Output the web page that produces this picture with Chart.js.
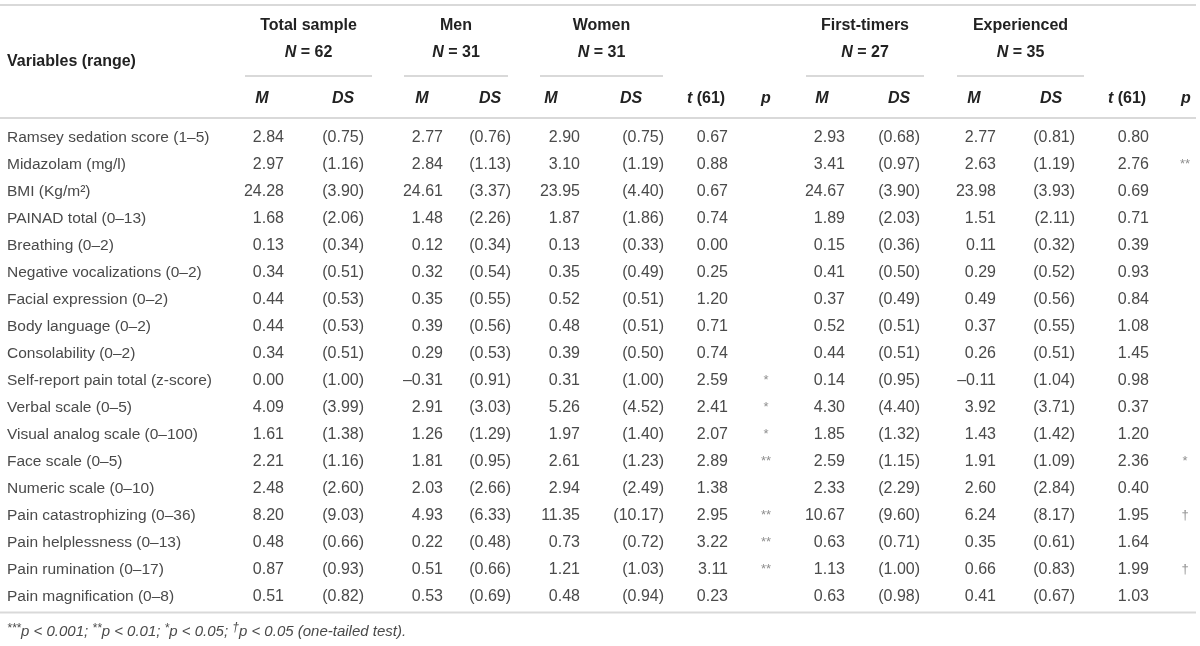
<!DOCTYPE html>
<html>
<head>
<meta charset="utf-8">
<script src="https://cdn.jsdelivr.net/npm/chart.js@4.4.0/dist/chart.umd.min.js"></script>
<style>
  html, body { margin: 0; padding: 0; background: #fff; }
  #wrap { width: 1200px; height: 646px; }
</style>
</head>
<body>
<div id="wrap"><canvas id="tableChart" width="1200" height="646"></canvas></div>
<script>
const rowLabels = [
    'Ramsey sedation score (1–5)', 'Midazolam (mg/l)', 'BMI (Kg/m²)', 'PAINAD total (0–13)',
    'Breathing (0–2)', 'Negative vocalizations (0–2)', 'Facial expression (0–2)', 'Body language (0–2)',
    'Consolability (0–2)', 'Self-report pain total (z-score)', 'Verbal scale (0–5)',
    'Visual analog scale (0–100)', 'Face scale (0–5)', 'Numeric scale (0–10)',
    'Pain catastrophizing (0–36)', 'Pain helplessness (0–13)', 'Pain rumination (0–17)',
    'Pain magnification (0–8)'
];

const totalM  = [2.84, 2.97, 24.28, 1.68, 0.13, 0.34, 0.44, 0.44, 0.34, 0.00, 4.09, 1.61, 2.21, 2.48, 8.20, 0.48, 0.87, 0.51];
const totalDS = [0.75, 1.16, 3.90, 2.06, 0.34, 0.51, 0.53, 0.53, 0.51, 1.00, 3.99, 1.38, 1.16, 2.60, 9.03, 0.66, 0.93, 0.82];
const menM    = [2.77, 2.84, 24.61, 1.48, 0.12, 0.32, 0.35, 0.39, 0.29, -0.31, 2.91, 1.26, 1.81, 2.03, 4.93, 0.22, 0.51, 0.53];
const menDS   = [0.76, 1.13, 3.37, 2.26, 0.34, 0.54, 0.55, 0.56, 0.53, 0.91, 3.03, 1.29, 0.95, 2.66, 6.33, 0.48, 0.66, 0.69];
const womenM  = [2.90, 3.10, 23.95, 1.87, 0.13, 0.35, 0.52, 0.48, 0.39, 0.31, 5.26, 1.97, 2.61, 2.94, 11.35, 0.73, 1.21, 0.48];
const womenDS = [0.75, 1.19, 4.40, 1.86, 0.33, 0.49, 0.51, 0.51, 0.50, 1.00, 4.52, 1.40, 1.23, 2.49, 10.17, 0.72, 1.03, 0.94];
const sexT    = [0.67, 0.88, 0.67, 0.74, 0.00, 0.25, 1.20, 0.71, 0.74, 2.59, 2.41, 2.07, 2.89, 1.38, 2.95, 3.22, 3.11, 0.23];
const sexP    = ['', '', '', '', '', '', '', '', '', '*', '*', '*', '**', '', '**', '**', '**', ''];
const firstM  = [2.93, 3.41, 24.67, 1.89, 0.15, 0.41, 0.37, 0.52, 0.44, 0.14, 4.30, 1.85, 2.59, 2.33, 10.67, 0.63, 1.13, 0.63];
const firstDS = [0.68, 0.97, 3.90, 2.03, 0.36, 0.50, 0.49, 0.51, 0.51, 0.95, 4.40, 1.32, 1.15, 2.29, 9.60, 0.71, 1.00, 0.98];
const expM    = [2.77, 2.63, 23.98, 1.51, 0.11, 0.29, 0.49, 0.37, 0.26, -0.11, 3.92, 1.43, 1.91, 2.60, 6.24, 0.35, 0.66, 0.41];
const expDS   = [0.81, 1.19, 3.93, 2.11, 0.32, 0.52, 0.56, 0.55, 0.51, 1.04, 3.71, 1.42, 1.09, 2.84, 8.17, 0.61, 0.83, 0.67];
const expT    = [0.80, 2.76, 0.69, 0.71, 0.39, 0.93, 0.84, 1.08, 1.45, 0.98, 0.37, 1.20, 2.36, 0.40, 1.95, 1.64, 1.99, 1.03];
const expP    = ['', '**', '', '', '', '', '', '', '', '', '', '', '*', '', '†', '', '†', ''];

const groupTitles = ['Total sample', 'Men', 'Women', 'First-timers', 'Experienced'];
const groupNs = ['62', '31', '31', '27', '35'];

// layout (horizontal positions on the x scale, 0..1200)
const groupSpans = [[245, 372], [404, 508], [540, 663], [806, 924], [957, 1084]];
const subHeads = [
    { t: 'M', x: 262 }, { t: 'DS', x: 343 }, { t: 'M', x: 422 }, { t: 'DS', x: 490 },
    { t: 'M', x: 551 }, { t: 'DS', x: 631 }, { t: 't61', x: 706 }, { t: 'p', x: 766 },
    { t: 'M', x: 822 }, { t: 'DS', x: 899 }, { t: 'M', x: 974 }, { t: 'DS', x: 1051 },
    { t: 't61', x: 1127 }, { t: 'p', x: 1186 }
];

const num = v => (v < 0 ? '–' : '') + Math.abs(v).toFixed(2);
const par = v => '(' + v.toFixed(2) + ')';

const columns = [
    { values: totalM, fmt: num, x: 284 },
    { values: totalDS, fmt: par, x: 364 },
    { values: menM, fmt: num, x: 443 },
    { values: menDS, fmt: par, x: 511 },
    { values: womenM, fmt: num, x: 580 },
    { values: womenDS, fmt: par, x: 664 },
    { values: sexT, fmt: num, x: 728 },
    { values: sexP, fmt: s => s, x: 766, mark: true },
    { values: firstM, fmt: num, x: 845 },
    { values: firstDS, fmt: par, x: 920 },
    { values: expM, fmt: num, x: 996 },
    { values: expDS, fmt: par, x: 1075 },
    { values: expT, fmt: num, x: 1149 },
    { values: expP, fmt: s => s, x: 1185, mark: true }
];

const FONT = '"Liberation Sans", Arial, Helvetica, sans-serif';
const LINE = '#d9d9d9';
const TEXT = '#4a4a4a';

function drawRich(ctx, parts, x, y, align) {
    let w = 0;
    parts.forEach(p => { ctx.font = p.f; w += ctx.measureText(p.t).width; });
    let cx = align === 'center' ? x - w / 2 : (align === 'right' ? x - w : x);
    ctx.textAlign = 'left';
    parts.forEach(p => {
        ctx.font = p.f;
        ctx.fillText(p.t, cx, y + (p.dy || 0));
        cx += ctx.measureText(p.t).width;
    });
}

const tablePlugin = {
    id: 'tablePlugin',
    afterDatasetsDraw(chart) {
        const ctx = chart.ctx;
        const xs = chart.scales.x;
        const ys = chart.scales.y;
        ctx.save();
        ctx.textBaseline = 'middle';

        // rules
        ctx.strokeStyle = LINE;
        ctx.lineWidth = 2;
        const hline = (x0, x1, y) => {
            ctx.beginPath();
            ctx.moveTo(xs.getPixelForValue(x0), y);
            ctx.lineTo(xs.getPixelForValue(x1), y);
            ctx.stroke();
        };
        hline(0, 1196, 5);
        hline(0, 1196, 118);
        hline(0, 1196, ys.bottom + 2);
        groupSpans.forEach(s => hline(s[0], s[1], 76));

        // header
        const bold = '700 16px ' + FONT;
        const boldIt = 'italic 700 16px ' + FONT;
        ctx.fillStyle = '#222';
        ctx.font = bold;
        ctx.textAlign = 'left';
        ctx.fillText('Variables (range)', 7, 62);
        groupTitles.forEach((g, i) => {
            const cx = xs.getPixelForValue((groupSpans[i][0] + groupSpans[i][1]) / 2);
            ctx.font = bold;
            ctx.textAlign = 'center';
            ctx.fillText(g, cx, 26);
            drawRich(ctx, [{ t: 'N', f: boldIt }, { t: ' = ' + groupNs[i], f: bold }], cx, 53, 'center');
        });
        subHeads.forEach(h => {
            const cx = xs.getPixelForValue(h.x);
            if (h.t === 't61') {
                drawRich(ctx, [{ t: 't', f: boldIt }, { t: ' (61)', f: bold }], cx, 99, 'center');
            } else {
                drawRich(ctx, [{ t: h.t, f: boldIt }], cx, 99, 'center');
            }
        });

        // row labels
        ctx.font = '400 15.5px ' + FONT;
        ctx.fillStyle = TEXT;
        ctx.textAlign = 'left';
        rowLabels.forEach((lab, i) => ctx.fillText(lab, 7, ys.getPixelForValue(i)));

        // cells, placed at each point the library laid out
        chart.data.datasets.forEach((ds, di) => {
            const col = columns[di];
            const meta = chart.getDatasetMeta(di);
            meta.data.forEach((pt, j) => {
                const txt = col.fmt(col.values[j]);
                if (!txt) return;
                if (col.mark) {
                    ctx.font = '400 13px ' + FONT;
                    ctx.fillStyle = '#8f8f8f';
                    ctx.textAlign = 'center';
                    ctx.fillText(txt, pt.x, pt.y - 1);
                } else {
                    ctx.font = '400 16px ' + FONT;
                    ctx.fillStyle = TEXT;
                    ctx.textAlign = 'right';
                    ctx.fillText(txt, pt.x, pt.y);
                }
            });
        });

        // footnote
        const it = 'italic 400 15px ' + FONT;
        const sup = 'italic 400 12px ' + FONT;
        ctx.fillStyle = '#4a4a4a';
        drawRich(ctx, [
            { t: '***', f: sup, dy: -3 }, { t: 'p < 0.001; ', f: it },
            { t: '**', f: sup, dy: -3 }, { t: 'p < 0.01; ', f: it },
            { t: '*', f: sup, dy: -3 }, { t: 'p < 0.05; ', f: it },
            { t: '†', f: sup, dy: -4 }, { t: 'p < 0.05 (one-tailed test).', f: it }
        ], 7, 632, 'left');
        ctx.restore();
    }
};

const datasets = columns.map(col => ({
    data: col.values.map((v, j) => ({ x: col.x, y: j })),
    pointRadius: 0,
    pointHoverRadius: 0
}));

new Chart(document.getElementById('tableChart').getContext('2d'), {
    type: 'scatter',
    data: { labels: rowLabels, datasets: datasets },
    options: {
        responsive: false,
        animation: false,
        events: [],
        layout: { padding: { top: 124.5, bottom: 35.5, left: 0, right: 0 } },
        scales: {
            x: { type: 'linear', min: 0, max: 1200, display: false },
            y: { type: 'category', labels: rowLabels, offset: true, display: false }
        },
        plugins: {
            legend: { display: false },
            tooltip: { enabled: false }
        }
    },
    plugins: [tablePlugin]
});
</script>
</body>
</html>
